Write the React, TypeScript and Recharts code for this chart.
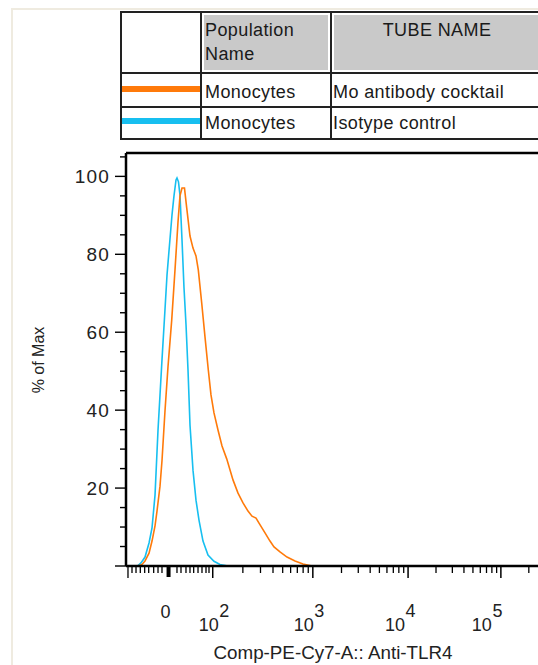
import { LineChart, Line, XAxis, YAxis, ReferenceLine } from 'recharts';

// display channel (0-1024 logicle scale) vs % of max
const isoCh = [19.7, 29.6, 37.0, 46.9, 56.8, 64.2, 71.6, 79.0, 83.9, 88.8, 95.0, 101.2, 107.3, 113.5, 118.4, 123.4, 125.8, 129.5, 133.2, 138.2, 143.1, 148.1, 153.0, 157.9, 165.3, 172.7, 180.1, 190.0, 202.3, 217.1, 231.9, 251.7];
const isoPct = [0, 0.1, 0.8, 2.3, 5.9, 9.8, 18.2, 34.9, 43.9, 52.9, 63.7, 74.7, 82.4, 90.1, 95.0, 99.1, 99.6, 98.6, 95.2, 83.7, 71.4, 61.9, 50.3, 36.2, 24.6, 16.9, 11.8, 6.4, 2.8, 1.2, 0.4, 0];

const moCh = [29.6, 39.5, 46.9, 56.8, 64.2, 71.6, 76.5, 83.9, 88.8, 96.2, 103.6, 112.8, 120.9, 128.3, 133.2, 138.2, 144.3, 149.8, 157.9, 165.3, 172.7, 178.4, 186.8, 194.9, 203.1, 209.7, 217.1, 227.0, 236.9, 248.5, 264.0, 276.4, 288.7, 301.0, 310.9, 320.8, 328.2, 343.0, 355.3, 365.2, 380.0, 397.3, 417.0, 436.7, 458.9];
const moPct = [0, 0.4, 1.3, 3.3, 6.4, 10.3, 14.1, 20.5, 27.0, 39.8, 51.1, 63.1, 76.0, 88.3, 95.0, 97.0, 97.0, 91.9, 84.7, 81.6, 79.6, 76.0, 67.5, 58.8, 50.3, 43.9, 39.3, 34.9, 30.8, 27.5, 22.1, 18.7, 16.2, 14.1, 12.8, 12.3, 11.0, 8.5, 6.4, 4.9, 3.6, 2.3, 1.3, 0.5, 0];

const populations = ['Monocytes', 'Monocytes'];
const tubeNames = ['Mo antibody cocktail', 'Isotype control'];

// axis ticks (channels)
const zeroCh = 105;
const decadeCh = [214, 461, 696, 925];
const decadeExp = ['2', '3', '4', '5'];
const linearMajorCh = [4.9];
const linearMinorCh = [14.8, 24.7, 35.3, 46.1, 56.0, 68.3, 79.0, 88.8, 125.8, 135.7, 148.0, 157.9, 167.0, 177.7, 187.5, 197.4, 204.8];
const yTicks = [0, 5, 10, 15, 20, 25, 30, 35, 40, 45, 50, 55, 60, 65, 70, 75, 80, 85, 90, 95, 100, 105];
const yLabels = [20, 40, 60, 80, 100];

const ORANGE = '#ff7a0a';
const CYAN = '#17bff0';
const FONT = "'Liberation Sans', Arial, sans-serif";

const isoData = isoCh.map((ch, i) => ({ ch, pct: isoPct[i] }));
const moData = moCh.map((ch, i) => ({ ch, pct: moPct[i] }));

const logMinor: number[] = [];
decadeCh.forEach((start, i) => {
  const width = i < decadeCh.length - 1 ? decadeCh[i + 1] - start : decadeCh[i] - decadeCh[i - 1];
  for (let k = 2; k <= 9; k++) {
    const pos = start + Math.log10(k) * width;
    if (pos <= 1024) logMinor.push(pos);
  }
});

const tickKind = new Map<number, string>();
linearMinorCh.forEach((v) => tickKind.set(v, 'minor'));
logMinor.forEach((v) => tickKind.set(v, 'minor'));
linearMajorCh.forEach((v) => tickKind.set(v, 'major'));
decadeCh.forEach((v) => tickKind.set(v, 'decade'));
tickKind.set(zeroCh, 'zero');
const xTicks = Array.from(tickKind.keys()).sort((a, b) => a - b);

const labelNudge = [1, -4, -8, -14];

const XTick = (props: any) => {
  const { x, y, payload } = props;
  const v = payload.value;
  const kind = tickKind.get(v);
  if (kind === 'zero') {
    return (
      <g>
        <line x1={x} x2={x} y1={y} y2={y + 11} stroke="#000" strokeWidth={4} />
        <text x={x - 3} y={y + 52} textAnchor="middle" fontSize={18} fill="#222" fontFamily={FONT}>0</text>
      </g>
    );
  }
  if (kind === 'decade') {
    const i = decadeCh.indexOf(v);
    const cx = x + labelNudge[i];
    return (
      <g>
        <line x1={x} x2={x} y1={y} y2={y + 12} stroke="#000" strokeWidth={1.5} />
        <text x={cx + 5} y={y + 65} textAnchor="end" fontSize={18} fill="#222" fontFamily={FONT}>10</text>
        <text x={cx + 5.5} y={y + 51} textAnchor="start" fontSize={18} fill="#222" fontFamily={FONT}>{decadeExp[i]}</text>
      </g>
    );
  }
  const len = kind === 'major' ? 12 : 7;
  return <line x1={x} x2={x} y1={y} y2={y + len} stroke="#000" strokeWidth={1.3} />;
};

const YTick = (props: any) => {
  const { x, y, payload } = props;
  const v = payload.value;
  const major = v % 20 === 0;
  return (
    <g>
      <line x1={x - (major ? 11 : 6)} x2={x} y1={y} y2={y} stroke="#000" strokeWidth={1.4} />
      {yLabels.includes(v) && (
        <text x={x - 16} y={y + 6.5} textAnchor="end" fontSize={19} letterSpacing={1.2} fill="#222" fontFamily={FONT}>{v}</text>
      )}
    </g>
  );
};

const cellText = { fontFamily: FONT, fontSize: 18, color: '#1a1a1a', letterSpacing: 0.4, whiteSpace: 'nowrap' as const };

export default function App() {
  return (
    <div style={{ position: 'absolute', left: 0, top: 0, width: 538, height: 665, overflow: 'hidden', background: '#fff', fontFamily: FONT }}>
      <div style={{ position: 'absolute', left: 11, top: 8, width: 600, height: 700, borderTop: '2px solid #efebe0', borderLeft: '2px solid #efebe0' }} />

      <div style={{ position: 'absolute', left: 0, top: 0 }}>
        <LineChart width={560} height={665} margin={{ top: 153, right: 19, bottom: 9, left: 26 }}>
          <XAxis
            type="number"
            dataKey="ch"
            domain={[0, 1024]}
            allowDataOverflow
            ticks={xTicks}
            interval={0}
            tick={<XTick />}
            tickLine={false}
            tickSize={0}
            tickMargin={0}
            height={90}
            axisLine={{ stroke: '#000', strokeWidth: 2.5 }}
          />
          <YAxis
            type="number"
            domain={[0, 106]}
            allowDataOverflow
            ticks={yTicks}
            interval={0}
            tick={<YTick />}
            tickLine={false}
            tickSize={0}
            tickMargin={0}
            width={100}
            axisLine={{ stroke: '#000', strokeWidth: 2.5 }}
          />
          <ReferenceLine y={106} stroke="#000" strokeWidth={2.5} />
          <Line data={isoData} dataKey="pct" type="linear" stroke={CYAN} strokeWidth={1.6} dot={false} isAnimationActive={false} />
          <Line data={moData} dataKey="pct" type="linear" stroke={ORANGE} strokeWidth={1.6} dot={false} isAnimationActive={false} />
        </LineChart>
      </div>

      {/* legend table */}
      <div
        style={{
          position: 'absolute', left: 120, top: 11, display: 'grid',
          gridTemplateColumns: '78px 128px 210px', gridTemplateRows: '59px 32px 30px',
          gap: 2, padding: 2, background: '#222',
        }}
      >
        <div style={{ background: '#fff' }} />
        <div style={{ background: '#fff', padding: 2 }}>
          <div style={{ ...cellText, background: '#c9c9c9', height: '100%', lineHeight: '24px', paddingTop: 3, paddingLeft: 1, boxSizing: 'border-box' }}>
            Population<br />Name
          </div>
        </div>
        <div style={{ background: '#fff', padding: 2 }}>
          <div style={{ ...cellText, background: '#c9c9c9', height: '100%', lineHeight: '24px', paddingTop: 3, textAlign: 'center', boxSizing: 'border-box' }}>
            TUBE NAME
          </div>
        </div>
        {populations.map((p, i) => [
          <div key={`sw${i}`} style={{ background: '#fff', position: 'relative' }}>
            <div style={{ position: 'absolute', left: 0, right: 0, top: i === 0 ? 12 : 10, height: 6, background: i === 0 ? ORANGE : CYAN }} />
          </div>,
          <div key={`p${i}`} style={{ ...cellText, background: '#fff', lineHeight: i === 0 ? '32px' : '30px', paddingLeft: 3, paddingTop: i === 0 ? 2 : 0, boxSizing: 'border-box' }}>{p}</div>,
          <div key={`t${i}`} style={{ ...cellText, background: '#fff', lineHeight: i === 0 ? '32px' : '30px', paddingLeft: 1, paddingTop: i === 0 ? 2 : 0, boxSizing: 'border-box' }}>{tubeNames[i]}</div>,
        ])}
      </div>

      {/* axis titles */}
      <div style={{ position: 'absolute', left: 138, top: 643, width: 390, textAlign: 'center', fontSize: 18.8, lineHeight: '20px', color: '#222', whiteSpace: 'nowrap' }}>
        Comp-PE-Cy7-A:: Anti-TLR4
      </div>
      <div style={{ position: 'absolute', left: -61.5, top: 350, width: 200, height: 20, lineHeight: '20px', textAlign: 'center', fontSize: 16, color: '#222', transform: 'rotate(-90deg)', whiteSpace: 'nowrap' }}>
        % of Max
      </div>
    </div>
  );
}
